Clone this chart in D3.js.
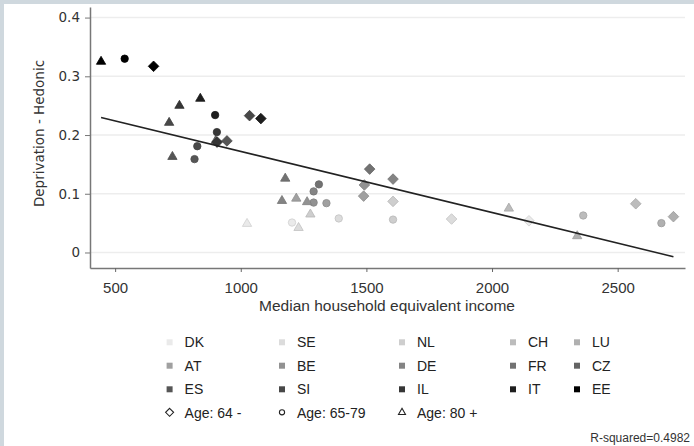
<!DOCTYPE html>
<html><head><meta charset="utf-8">
<script src="https://cdn.jsdelivr.net/npm/d3@7"></script>
<style>body{margin:0;padding:0;background:#fff}svg{display:block}</style>
</head><body>
<svg id="c" width="694" height="446"></svg>
<script>
// ---- data ----
const countries = ["DK","SE","NL","CH","LU","AT","BE","DE","FR","CZ","ES","SI","IL","IT","EE"];
const shades = ["#eaeaea","#dcdcdc","#cecece","#bcbcbc","#b0b0b0","#a0a0a0","#929292","#848484","#727272","#646464","#565656","#484848","#363636","#1e1e1e","#000000"];
const ageGroups = ["Age: 64 -","Age: 65-79","Age: 80 +"];
const pointCountry = ["DK","DK","DK","SE","SE","SE","NL","NL","NL","CH","CH","CH","LU","LU","LU",
  "AT","AT","AT","BE","BE","BE","DE","DE","DE","FR","FR","FR","CZ","ES","ES","ES","SI","SI","SI",
  "IL","IL","IL","IT","IT","IT","EE","EE","EE"];
const pointAge = [0,1,2, 0,1,2, 0,1,2, 0,1,2, 0,1,2, 0,1,2, 0,1,2, 0,1,2, 0,1,2, 2, 0,1,2, 0,1,2, 0,1,2, 0,1,2, 0,1,2];
const income = [2147,1204,1025, 1839,1390,1230, 1606,1606,1277, 2572,2363,2067, 2722,2674,2339,
  1489,1341,1221, 1492,1290,1264, 1606,1290,1164, 1513,1311,1177, 900, 945,816,728, 1035,827,715,
  906,905,756, 1080,898,839, 653,538,444];
const deprivation = [0.054,0.051,0.049, 0.057,0.058,0.042, 0.087,0.056,0.065, 0.083,0.063,0.075, 0.061,0.050,0.028,
  0.096,0.084,0.092, 0.115,0.085,0.086, 0.125,0.104,0.088, 0.142,0.116,0.126, 0.190, 0.190,0.159,0.163, 0.233,0.181,0.221,
  0.188,0.205,0.250, 0.228,0.234,0.262, 0.317,0.330,0.325];
const xTicks = [500,1000,1500,2000,2500];
const yTicks = [0,0.1,0.2,0.3,0.4];
const fitIntercept = 0.2761, fitSlope = -0.00010405;
const rSquared = "R-squared=0.4982";

// ---- layout ----
const svg = d3.select("#c");
svg.append("rect").attr("width",694).attr("height",446).attr("fill","#cfd8de");
svg.append("rect").attr("x",4).attr("y",4).attr("width",690).attr("height",442).attr("fill","#fff");

const x = d3.scaleLinear().domain([400,2768]).range([90,685]);
const y = d3.scaleLinear().domain([-0.0264,0.418]).range([268,7]);
const color = d3.scaleOrdinal().domain(countries).range(shades);

// grid
svg.append("g").selectAll("line").data(yTicks).join("line")
  .attr("x1",90).attr("x2",685).attr("y1",d=>y(d)).attr("y2",d=>y(d))
  .attr("stroke","#ededed").attr("stroke-width",1.5);

// axes
const ya = svg.append("g").attr("transform","translate(90,0)")
  .call(d3.axisLeft(y).tickValues(yTicks).tickSize(5).tickSizeOuter(0).tickPadding(5)
    .tickFormat(d=>d===0?"0":d3.format(".1f")(d)));
ya.select(".domain").attr("stroke","#777").attr("stroke-width",1.5);
ya.selectAll(".tick line").attr("stroke","#777");
ya.selectAll(".tick text").attr("font-family","DejaVu Sans").attr("font-size","13.5px").attr("fill","#333");

const xa = svg.append("g").attr("transform","translate(0,268)")
  .call(d3.axisBottom(x).tickValues(xTicks).tickSize(4).tickSizeOuter(0).tickFormat(d3.format("d")));
xa.select(".domain").attr("stroke","#777").attr("stroke-width",1.5);
xa.selectAll(".tick line").attr("stroke","#666");
xa.selectAll(".tick text").attr("font-family","Liberation Sans").attr("font-size","15px")
  .attr("fill","#333").attr("y",25).attr("dy",null);

// titles
svg.append("text").attr("transform","translate(43.5,133.5) rotate(-90)").attr("text-anchor","middle")
  .attr("font-family","DejaVu Sans").attr("font-size","13.5px").attr("fill","#333").text("Deprivation - Hedonic");
svg.append("text").attr("x",387).attr("y",310.5).attr("text-anchor","middle")
  .attr("font-family","Liberation Sans").attr("font-size","15.5px").attr("fill","#333").text("Median household equivalent income");

// marker shapes
function shapePath(a){
  if(a===0){const s=5.3;return `M0,${-s}L${s},0L0,${s}L${-s},0Z`;}
  if(a===1){const r=3.7;return `M${r},0A${r},${r} 0 1,1 ${-r},0A${r},${r} 0 1,1 ${r},0Z`;}
  const h=8.0, w=4.65; return `M0,${-h*2/3}L${w},${h/3}L${-w},${h/3}Z`;
}
const pts = income.map((v,i)=>({x:v,y:deprivation[i],c:pointCountry[i],a:pointAge[i]}));
svg.append("g").selectAll("path").data(pts).join("path")
  .attr("transform",d=>`translate(${x(d.x)},${y(d.y)})`)
  .attr("d",d=>shapePath(d.a))
  .attr("fill",d=>color(d.c))
  .attr("stroke",d=>d3.color(color(d.c)).darker(0.35))
  .attr("stroke-width",0.8);

// regression line
const ext = d3.extent(income);
svg.append("path").datum(ext)
  .attr("d",d3.line().x(d=>x(d)).y(d=>y(fitIntercept+fitSlope*d)))
  .attr("stroke","#222").attr("stroke-width",1.6).attr("fill","none");

// legend
const colX = [169.6,282,402,513,577];
const rowY = [342.3,365.7,389.3];
const lg = svg.append("g");
countries.forEach((c,i)=>{
  const cx = colX[i%5], cy = rowY[Math.floor(i/5)];
  lg.append("rect").attr("x",cx-3).attr("y",cy-3).attr("width",6).attr("height",6).attr("fill",color(c));
  lg.append("text").attr("x",cx+15).attr("y",cy+5).attr("font-family","Liberation Sans").attr("font-size","14px")
    .attr("fill","#222").text(c);
});
ageGroups.forEach((g,i)=>{
  const cx = colX[i], cy = 413.3;
  let d;
  if(i===0){const s=4;d=`M0,${-s}L${s},0L0,${s}L${-s},0Z`;}
  else if(i===1){const r=2.6;d=`M${r},0A${r},${r} 0 1,1 ${-r},0A${r},${r} 0 1,1 ${r},0Z`;}
  else {d=`M0,-4L3.5,2.2L-3.5,2.2Z`;}
  lg.append("path").attr("transform",`translate(${cx},${cy-1})`).attr("d",d)
    .attr("fill","none").attr("stroke","#222").attr("stroke-width",1.1);
  lg.append("text").attr("x",cx+15).attr("y",cy+5).attr("font-family","Liberation Sans").attr("font-size","14px")
    .attr("fill","#222").text(g);
});
svg.append("text").attr("x",690).attr("y",441.7).attr("text-anchor","end")
  .attr("font-family","Liberation Sans").attr("font-size","12px").attr("fill","#333").text(rSquared);
</script>
</body></html>
